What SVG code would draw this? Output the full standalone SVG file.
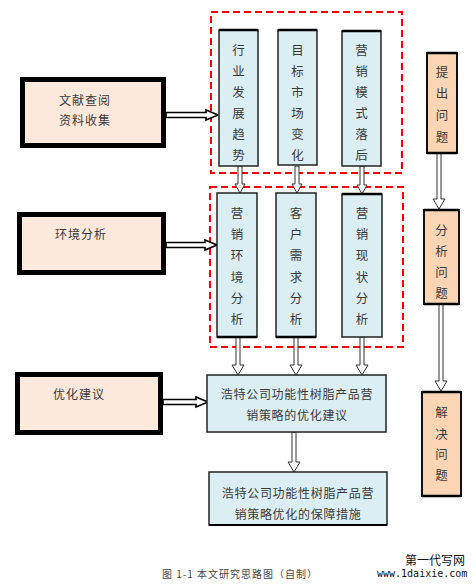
<svg xmlns="http://www.w3.org/2000/svg" width="476" height="587" viewBox="0 0 476 587">
<style>
.bg{fill:#ffffff}
.lbox{fill:#fde9dc;stroke:#000;stroke-width:5}
.col{fill:#daeef3;stroke:#222;stroke-width:1.5}
.rbox{fill:#fcd5b4;stroke:#111;stroke-width:2}
.wide{fill:#daeef3;stroke:#222;stroke-width:1.5}
.dash{fill:none;stroke:#ff0000;stroke-width:2;stroke-dasharray:7 4}
.arr{fill:#ffffff;stroke:#333;stroke-width:1}
.arrL{fill:#ffffff;stroke:#000;stroke-width:1.6}
text{font-family:"Noto Sans CJK SC","Noto Sans CJK JP",sans-serif;fill:#3a3a3a;font-size:12px}
.v{text-anchor:middle;dominant-baseline:central;font-size:12.5px}
.h{letter-spacing:1px;dominant-baseline:central}
.c{text-anchor:middle;dominant-baseline:central;letter-spacing:0.7px;font-size:12px}
</style>
<rect class="bg" x="0" y="0" width="476" height="587"/>

<g id="dashed-groups">
<rect class="dash" x="211" y="12" width="191" height="161"/>
<rect class="dash" x="210" y="187" width="193" height="160"/>
</g>

<g id="connectors">
<path class="arrL" d="M166 112.5 H206 V110 L218 115 L206 120 V117.5 H166 Z"/>
<path class="arrL" d="M166 242.5 H205 V240 L217 245 L205 250 V247.5 H166 Z"/>
<path class="arrL" d="M163 399.5 H196 V397 L208 402 L196 407 V404.5 H163 Z"/>
<path class="arr" d="M238 166 V184 H235 L240 193 L245 184 H242 V166 Z"/>
<path class="arr" d="M295 166 V184 H292 L297 193 L302 184 H299 V166 Z"/>
<path class="arr" d="M360 166 V185 H357 L362 194 L367 185 H364 V166 Z"/>
<path class="arr" d="M236 337 V365 H232 L238 375 L244 365 H240 V337 Z"/>
<path class="arr" d="M294 337 V365 H290 L296 375 L302 365 H298 V337 Z"/>
<path class="arr" d="M360 337 V365 H356 L362 375 L368 365 H364 V337 Z"/>
<path class="arr" d="M292 432 V462 H288 L294 472 L300 462 H296 V432 Z"/>
<path class="arr" d="M437 153 V199 H433 L439 209 L445 199 H441 V153 Z"/>
<path class="arr" d="M439 304 V381 H435 L441 391 L447 381 H443 V304 Z"/>
</g>

<g id="n-wenxian">
<rect class="lbox" x="22.5" y="79.5" width="141" height="66"/>
<text class="h" x="59" y="99">文献查阅</text>
<text class="h" x="59" y="119">资料收集</text>
</g>
<g id="n-huanjing">
<rect class="lbox" x="19.5" y="214.5" width="144" height="58"/>
<text class="h" x="55" y="233">环境分析</text>
</g>
<g id="n-youhua">
<rect class="lbox" x="17.5" y="374.5" width="143" height="58"/>
<text class="h" x="53" y="393">优化建议</text>
</g>

<g id="n-hangye">
<rect class="col" x="219" y="30" width="39" height="136"/>
<path d="M219 30 H258" stroke="#000" stroke-width="2.5"/>
<text class="v" x="238.5" y="49">行</text><text class="v" x="238.5" y="70">业</text><text class="v" x="238.5" y="91">发</text><text class="v" x="238.5" y="112">展</text><text class="v" x="238.5" y="133">趋</text><text class="v" x="238.5" y="154">势</text>
</g>
<g id="n-mubiao">
<rect class="col" x="278" y="30" width="39" height="135"/>
<path d="M278 30 H317" stroke="#000" stroke-width="2.5"/>
<text class="v" x="297.5" y="49">目</text><text class="v" x="297.5" y="70">标</text><text class="v" x="297.5" y="91">市</text><text class="v" x="297.5" y="112">场</text><text class="v" x="297.5" y="133">变</text><text class="v" x="297.5" y="154">化</text>
</g>
<g id="n-moshi">
<rect class="col" x="342" y="31" width="39" height="135"/>
<path d="M342 31 H381" stroke="#000" stroke-width="2.5"/>
<text class="v" x="361.5" y="49">营</text><text class="v" x="361.5" y="70">销</text><text class="v" x="361.5" y="91">模</text><text class="v" x="361.5" y="112">式</text><text class="v" x="361.5" y="133">落</text><text class="v" x="361.5" y="154">后</text>
</g>

<g id="n-huanjingfx">
<rect class="col" x="217" y="193" width="40" height="144"/>
<path d="M217 337 H257" stroke="#000" stroke-width="2.5"/>
<text class="v" x="237" y="212">营</text><text class="v" x="237" y="233">销</text><text class="v" x="237" y="254">环</text><text class="v" x="237" y="276">境</text><text class="v" x="237" y="297">分</text><text class="v" x="237" y="318">析</text>
</g>
<g id="n-kehu">
<rect class="col" x="276" y="193" width="40" height="144"/>
<path d="M276 337 H316" stroke="#000" stroke-width="2.5"/>
<text class="v" x="296" y="212">客</text><text class="v" x="296" y="233">户</text><text class="v" x="296" y="254">需</text><text class="v" x="296" y="276">求</text><text class="v" x="296" y="297">分</text><text class="v" x="296" y="318">析</text>
</g>
<g id="n-xianzhuang">
<rect class="col" x="342" y="194" width="40" height="143"/>
<path d="M342 194 H382" stroke="#000" stroke-width="2.5"/>
<text class="v" x="362" y="212">营</text><text class="v" x="362" y="233">销</text><text class="v" x="362" y="254">现</text><text class="v" x="362" y="276">状</text><text class="v" x="362" y="297">分</text><text class="v" x="362" y="318">析</text>
</g>

<g id="n-jianyi">
<rect class="wide" x="207" y="375" width="179" height="57"/>
<text class="c" x="297" y="393">浩特公司功能性树脂产品营</text>
<text class="c" x="297" y="414">销策略的优化建议</text>
</g>
<g id="n-baozhang">
<rect class="wide" x="209" y="472" width="178" height="53"/>
<path d="M209 525 H387" stroke="#000" stroke-width="2"/>
<text class="c" x="298" y="492">浩特公司功能性树脂产品营</text>
<text class="c" x="298" y="513">销策略优化的保障措施</text>
</g>

<g id="n-tichu">
<rect class="rbox" x="427" y="53" width="30" height="100"/>
<path d="M427 53 H457 M427 153 H457" stroke="#000" stroke-width="2.5"/>
<text class="v" x="442" y="71">提</text><text class="v" x="442" y="92">出</text><text class="v" x="442" y="114">问</text><text class="v" x="442" y="136">题</text>
</g>
<g id="n-fenxi">
<rect class="rbox" x="424" y="210" width="35" height="94"/>
<path d="M424 210 H459 M424 304 H459" stroke="#000" stroke-width="2.5"/>
<text class="v" x="441.5" y="229">分</text><text class="v" x="441.5" y="250">析</text><text class="v" x="441.5" y="271">问</text><text class="v" x="441.5" y="292">题</text>
</g>
<g id="n-jiejue">
<rect class="rbox" x="422" y="392" width="39" height="104"/>
<path d="M422 392 H461 M422 496 H461" stroke="#000" stroke-width="2.5"/>
<text class="v" x="441.5" y="411">解</text><text class="v" x="441.5" y="433">决</text><text class="v" x="441.5" y="453">问</text><text class="v" x="441.5" y="474">题</text>
</g>

<g id="caption">
<text x="162" y="573" dominant-baseline="central" textLength="155" lengthAdjust="spacing" style="font-size:10px;fill:#444">图 1-1 本文研究思路图（自制）</text>
<text x="405" y="559" dominant-baseline="central" style="font-size:12px;fill:#111">第一代写网</text>
<text x="377" y="573" dominant-baseline="central" style='font-family:"DejaVu Sans Mono",monospace;font-size:10px;fill:#111'>www.1daixie.com</text>
</g>
</svg>
